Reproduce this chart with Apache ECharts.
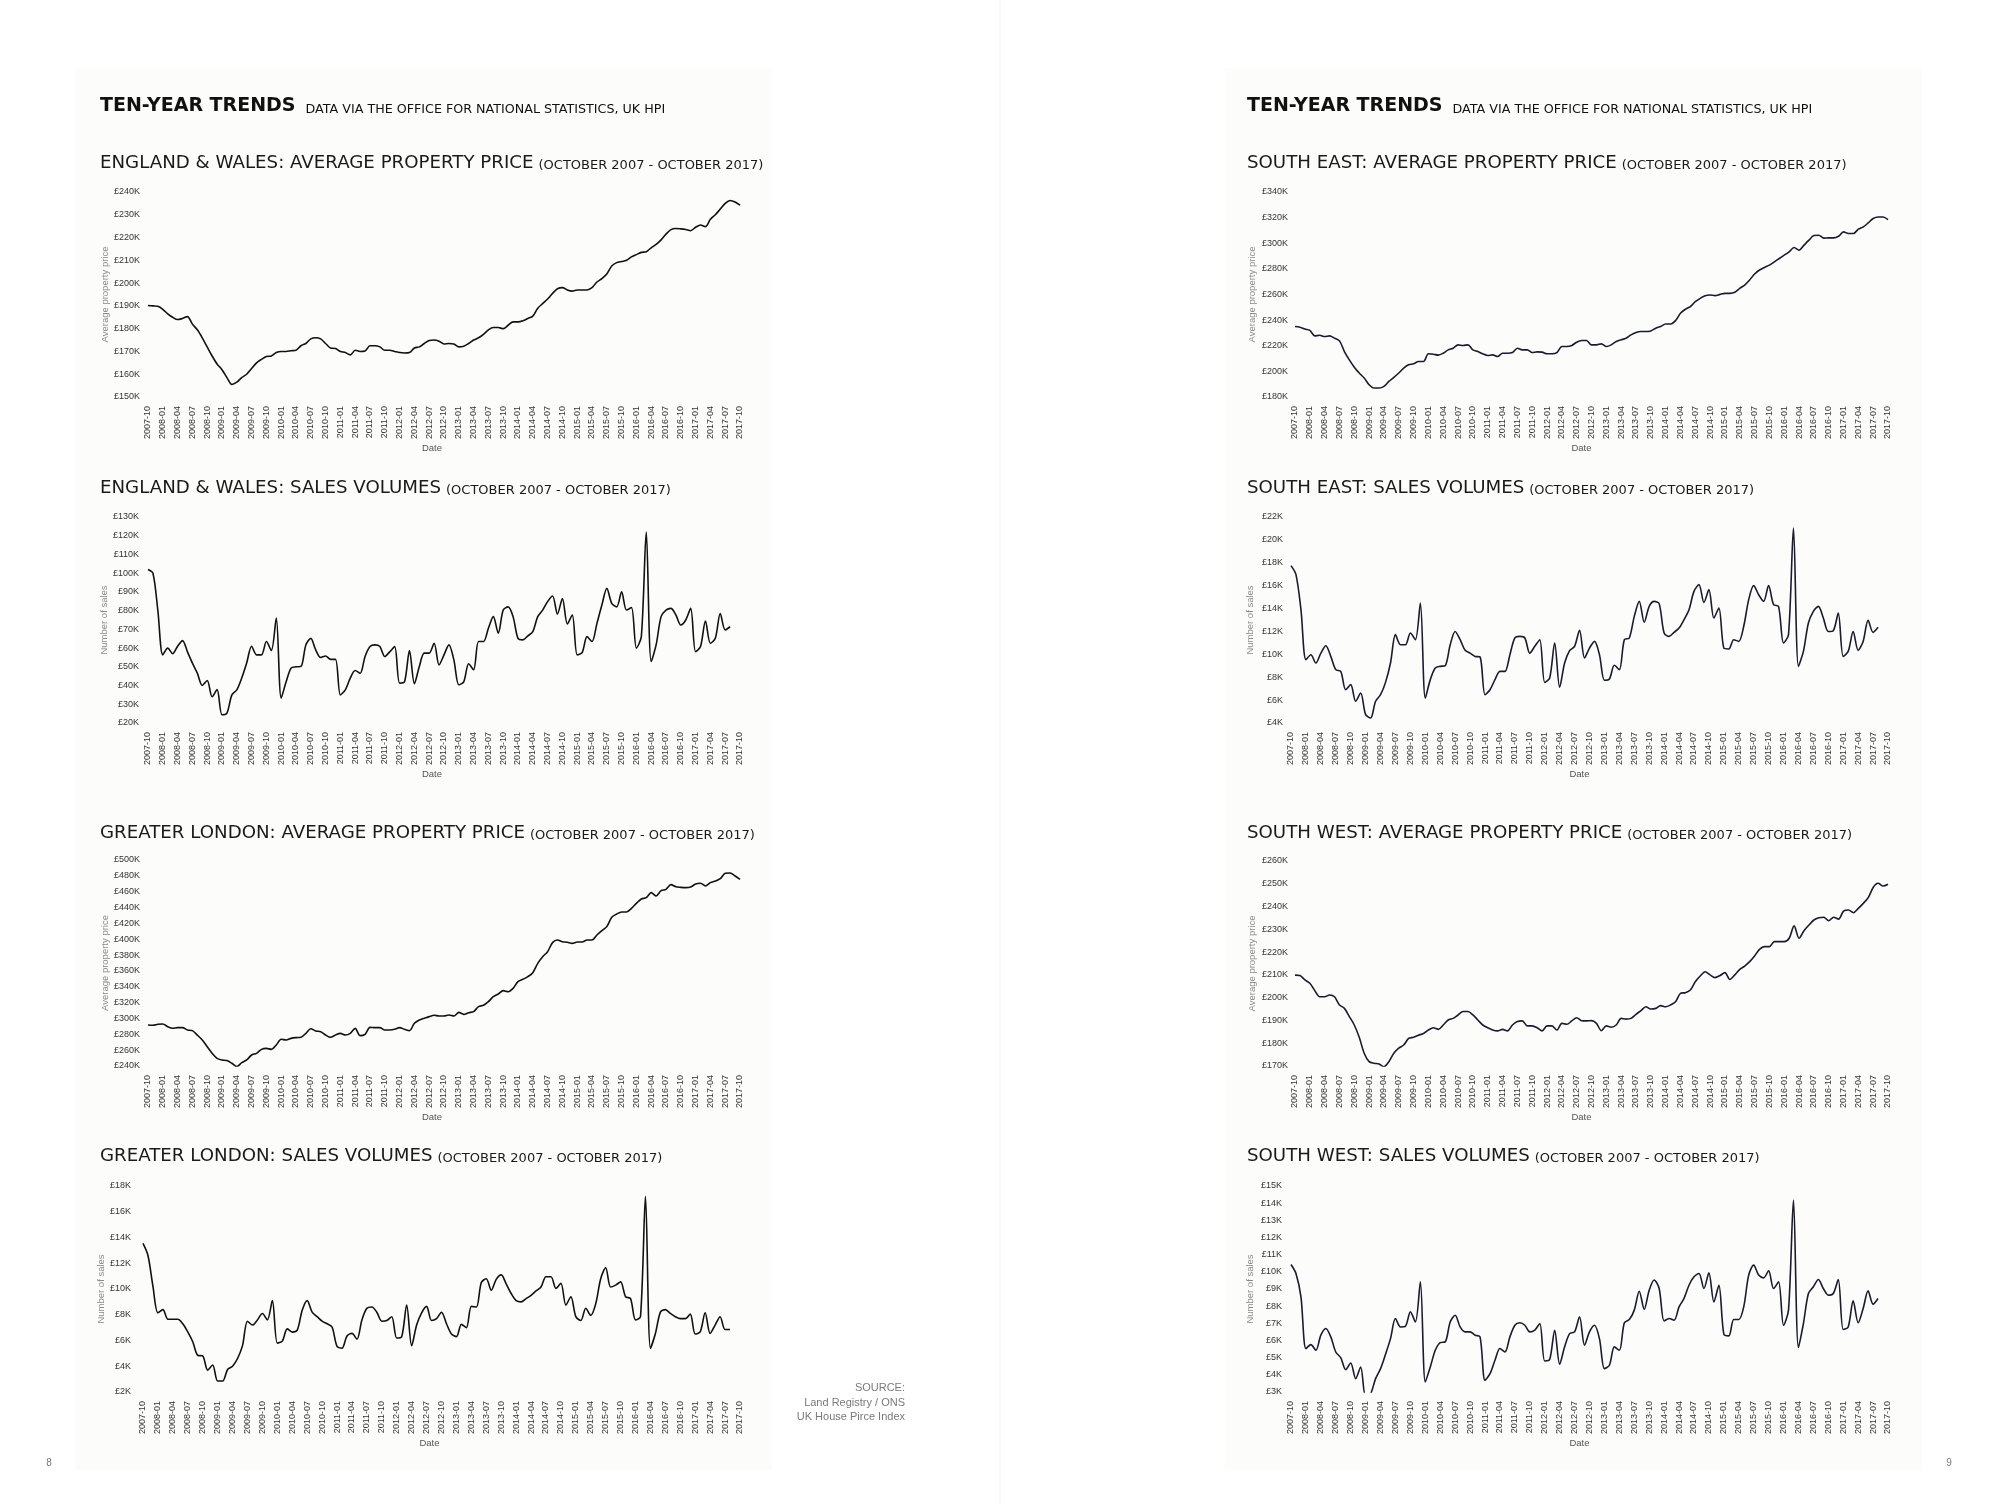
<!DOCTYPE html>
<html>
<head>
<meta charset="utf-8">
<script src="https://cdn.jsdelivr.net/npm/echarts@6/dist/echarts.min.js"></script>
<style>
html,body{margin:0;padding:0;background:#ffffff;}
#c{width:2000px;height:1504px;}
</style>
</head>
<body>
<div id="c"></div>
<script>
// ---------- categories ----------
const months = [
 '2007-10','2007-11','2007-12',
 '2008-01','2008-02','2008-03','2008-04','2008-05','2008-06','2008-07','2008-08','2008-09','2008-10','2008-11','2008-12',
 '2009-01','2009-02','2009-03','2009-04','2009-05','2009-06','2009-07','2009-08','2009-09','2009-10','2009-11','2009-12',
 '2010-01','2010-02','2010-03','2010-04','2010-05','2010-06','2010-07','2010-08','2010-09','2010-10','2010-11','2010-12',
 '2011-01','2011-02','2011-03','2011-04','2011-05','2011-06','2011-07','2011-08','2011-09','2011-10','2011-11','2011-12',
 '2012-01','2012-02','2012-03','2012-04','2012-05','2012-06','2012-07','2012-08','2012-09','2012-10','2012-11','2012-12',
 '2013-01','2013-02','2013-03','2013-04','2013-05','2013-06','2013-07','2013-08','2013-09','2013-10','2013-11','2013-12',
 '2014-01','2014-02','2014-03','2014-04','2014-05','2014-06','2014-07','2014-08','2014-09','2014-10','2014-11','2014-12',
 '2015-01','2015-02','2015-03','2015-04','2015-05','2015-06','2015-07','2015-08','2015-09','2015-10','2015-11','2015-12',
 '2016-01','2016-02','2016-03','2016-04','2016-05','2016-06','2016-07','2016-08','2016-09','2016-10','2016-11','2016-12',
 '2017-01','2017-02','2017-03','2017-04','2017-05','2017-06','2017-07','2017-08','2017-09','2017-10'
];

// ---------- series values (in £ thousands / thousands of sales) ----------
const englandWalesPrice = [
 190.2,190.0,189.8,
 188.5,186.5,185.0,184.0,184.5,185.3,182.0,179.5,176.0,172.0,168.0,164.5,
 162.0,158.5,155.5,156.5,158.5,160.0,162.5,165.0,166.5,167.8,168.0,169.5,
 170.0,170.0,170.3,170.5,172.5,173.5,175.5,176.0,175.5,173.5,171.5,171.3,
 170.0,169.5,168.5,170.5,170.0,170.2,172.5,172.5,172.0,170.5,170.5,170.0,
 169.5,169.3,169.5,171.5,172.0,173.5,174.8,175.0,174.5,173.3,173.5,173.3,
 172.0,172.3,173.5,175.0,176.0,177.5,179.5,180.5,180.5,180.0,181.5,183.0,
 183.0,183.5,184.5,185.5,189.0,191.0,193.0,195.5,197.5,198.0,197.0,196.5,
 197.0,197.0,197.0,198.0,200.5,202.0,204.0,207.5,209.0,209.5,210.0,211.5,
 212.5,213.5,213.8,215.5,217.0,219.0,221.5,223.5,224.0,223.8,223.5,223.0,
 224.5,225.5,224.8,228.0,230.0,232.5,235.0,236.3,235.6,234.2
];
const englandWalesSales = [
 102,100,80,
 56.4,60,57,61,64,58,52,46.6,40,42.7,34,37.8,
 24.4,25.3,35,37.7,44,52,61,56.4,56.4,63.5,58.7,76,
 33.3,42,49.3,50,50.2,61.7,65.2,59,55,55.8,54,54,
 35,37.7,44,48,46.6,55.5,60.8,61.7,60.8,55.5,58,60.8,
 41.3,42,58.7,41,50.2,57.3,57.3,62.6,51,56.4,61.7,53.7,
 40.4,42,51.6,48.4,63.5,63.5,70.6,76.8,68,80.3,82,76.8,
 65.2,64.4,66.5,68.8,76.8,80.3,84.8,87.8,78.2,86.5,72.9,77.7,
 56.4,57.6,66.1,63.5,73.2,83,91.9,83.9,82,90,80.3,81.7,
 60,66.1,122,52.8,61.7,76.8,80.3,81.2,77.7,72.3,75,81.2,
 58.1,60.8,74.5,62.6,65.2,78.5,69.7,71.4
];
const londonPrice = [
 291.8,291.5,292.6,
 293,289.6,287.6,288.4,288.4,285.5,284.6,279,272.8,264.4,256,249.7,
 247.6,246.8,243.4,239.2,244.2,247.6,253.9,256,261,262.3,261,266.5,
 273.7,272.8,274.9,275.8,276.2,281.2,287.1,284.2,283.3,279.1,276.2,279.1,
 281.2,279.1,281.2,287.5,278.3,280,288.8,288.4,288.4,285.5,285.5,286.3,
 288.4,286.3,284.6,293.9,298.1,300.2,302.3,304,303.1,303.1,304.4,303.1,
 307.7,305.2,307.3,308.6,314.9,316.6,321.2,327.5,330.9,335.1,333.8,338,
 346.4,349.4,352.8,357.8,369.6,378,384.3,395.7,399,396.9,396.1,394.8,
 396.5,396.5,399,399,405.3,410.8,415.9,427.6,431.8,434.4,434.4,439,
 445.3,450.8,452.5,458.8,454.6,461.3,463,468.9,466.3,465.5,465.1,465.9,
 469.7,470.6,467.2,471.4,473.5,476.4,483.2,483.6,479.8,475.6
];
const londonSales = [
 13.54,12.6,10.2,
 8.15,8.4,7.65,7.65,7.65,7.3,6.67,5.9,4.85,4.8,3.7,4.1,
 2.85,2.85,3.75,4.0,4.6,5.6,7.5,7.2,7.6,8.1,7.6,9.1,
 5.8,5.95,6.9,6.65,6.8,8.35,9.1,8.2,7.85,7.5,7.3,7.05,
 5.55,5.4,6.35,6.55,6.1,7.6,8.5,8.6,8.2,7.5,7.55,7.85,
 6.2,6.3,8.75,5.6,7.2,8.15,8.65,7.55,7.7,8.2,7.3,6.5,
 6.3,7.25,7.0,8.65,8.6,10.5,10.8,9.9,10.75,11.1,10.4,9.65,
 9.1,9.0,9.25,9.5,9.85,10.15,10.95,10.95,10.05,10.45,8.75,9.4,
 7.85,7.55,8.5,7.95,8.85,10.8,11.65,10.15,10.3,10.55,9.4,9.25,
 7.6,7.85,17.2,5.4,6.55,8.2,8.4,8.1,7.85,7.7,7.7,8.05,
 6.5,6.67,8.15,6.55,7.2,7.85,6.85,6.85
];
const southEastPrice = [
 235,234.5,233,
 232,227.7,228.2,227.2,227.7,225.9,223.8,215.5,209,203.3,198.7,194.8,
 189.6,187,187,188.3,192.2,195.3,198.7,202.6,205.1,205.9,207.7,207.7,
 213.7,213.4,212.7,214.2,216.8,218.1,220.7,220.2,220.7,216.8,215.5,213.7,
 212.4,212.9,211.6,214.2,214.2,214.7,218.1,216.8,216.8,214.7,215.2,215,
 213.7,213.7,214.7,219.4,219.4,220.2,222.8,224.1,224.1,220.7,220.7,221.5,
 219.4,220.7,223.3,224.6,225.9,228.5,230.3,231.1,231.1,231.6,233.7,235,
 237,237,239.6,245.3,248.5,250.5,254.4,257,259.1,259.6,259.1,260.1,
 260.9,260.9,261.7,264.8,267.4,271.3,276,279.1,281.1,282.9,285.5,288.1,
 290.7,293.3,296.7,294.6,298.5,302.4,306,306.3,304,304.2,304.2,305.5,
 308.9,307.6,307.6,311,312.8,315.9,319.3,320.5,320.5,318.5
];
const southEastSales = [
 17.75,16.96,13.9,
 9.53,9.97,9.24,10.1,10.75,9.82,8.66,8.51,6.91,7.35,5.9,6.62,
 4.73,4.44,5.9,6.47,7.55,9.24,11.72,10.84,10.84,11.86,11.28,14.48,
 6.18,7.79,8.8,8.95,9.01,10.84,12.0,11.28,10.35,10.1,9.82,9.77,
 6.47,6.91,7.79,8.51,8.51,9.97,11.43,11.57,11.43,10.1,10.7,11.28,
 7.55,7.93,10.99,7.12,9.24,10.32,10.7,12.1,9.68,10.55,11.13,9.97,
 7.73,7.85,9.04,8.66,11.28,11.43,13.32,14.63,12.8,14.19,14.63,14.43,
 11.86,11.57,11.92,12.3,13.03,13.9,15.5,16.09,14.54,15.65,13.17,14.05,
 10.55,10.47,11.28,11.13,12.45,14.78,16.0,15.21,14.63,16.0,14.34,14.19,
 10.99,11.72,21.04,8.95,10.26,12.74,13.76,14.19,13.17,12.0,12.07,13.61,
 9.82,10.26,12.0,10.35,11.13,12.97,11.92,12.36
];
const southWestPrice = [
 209.9,209.7,207.8,
 206.3,203.1,200.4,200.4,201.2,200.4,196.8,195.3,191.7,188,182.6,175.6,
 171.9,171.2,170.9,169.7,171.9,175.6,177.8,179.2,182.1,182.6,183.5,184.3,
 185.8,186.8,186.1,188,190.2,190.9,192.4,193.9,193.9,192.4,190.2,188,
 186.8,185.8,185.4,186.1,185.4,188,189.5,189.8,187.6,187.6,186.8,185.4,
 187.6,187.6,185.8,188.7,188.3,189.8,191.2,189.9,189.8,189.9,188.7,185.5,
 187.6,187,188,190.9,190.6,190.9,192.7,194.3,196,195,195.3,196.5,
 196,196.8,198.2,201.9,202.2,203.4,207,209.5,211.4,210,208.8,209.7,
 211,208,210,212.4,213.9,215.8,218.3,221.2,222.4,222.4,224.6,224.6,
 224.6,226.1,231.5,226.1,229.4,231.9,234.1,235.1,235.3,233.8,235.3,234.5,
 238,238.5,237.3,239.2,241.4,243.9,248.4,250.2,249,249.8
];
const southWestSales = [
 10.43,9.9,8.54,
 5.53,5.76,5.43,6.31,6.7,6.21,5.33,5.0,4.3,4.69,3.78,4.46,
 2.75,2.9,3.78,4.36,5.2,6.11,7.28,6.79,6.83,7.67,7.08,9.42,
 3.58,4.46,5.43,5.88,5.92,7.08,7.47,6.79,6.5,6.5,6.31,6.21,
 3.68,4.07,4.85,5.53,5.33,6.21,6.89,7.03,6.89,6.5,6.6,6.99,
 4.81,4.89,6.6,4.62,5.63,6.4,6.5,7.38,5.72,6.5,6.89,6.11,
 4.36,4.56,5.63,5.43,7.03,7.22,7.77,8.87,7.82,8.93,9.52,9.03,
 7.14,7.28,7.18,7.96,8.45,9.22,9.71,9.9,9.03,9.94,8.25,9.22,
 6.37,6.27,7.22,7.22,7.96,9.81,10.39,9.81,9.65,10.06,9.03,9.42,
 6.89,7.77,14.18,5.59,6.99,8.74,9.13,9.55,9.03,8.64,8.74,9.55,
 6.64,6.79,8.31,7.03,7.86,8.89,8.12,8.45
];

// ---------- y-axis scales [min, max, interval] ----------
const axisEWPrice = [150, 240, 10];
const axisEWSales = [20, 130, 10];
const axisLonPrice = [240, 500, 20];
const axisLonSales = [2, 18, 2];
const axisSEPrice = [180, 340, 20];
const axisSESales = [4, 22, 2];
const axisSWPrice = [170, 260, 10];
const axisSWSales = [3, 15, 1];

// ---------- texts ----------
const headerMain = 'TEN-YEAR TRENDS';
const headerSub = 'DATA VIA THE OFFICE FOR NATIONAL STATISTICS, UK HPI';
const periodText = '(OCTOBER 2007 - OCTOBER 2017)';
const chartTitles = [
 'ENGLAND & WALES: AVERAGE PROPERTY PRICE',
 'ENGLAND & WALES: SALES VOLUMES',
 'GREATER LONDON: AVERAGE PROPERTY PRICE',
 'GREATER LONDON: SALES VOLUMES',
 'SOUTH EAST: AVERAGE PROPERTY PRICE',
 'SOUTH EAST: SALES VOLUMES',
 'SOUTH WEST: AVERAGE PROPERTY PRICE',
 'SOUTH WEST: SALES VOLUMES'
];
const priceAxisName = 'Average property price';
const salesAxisName = 'Number of sales';
const xAxisName = 'Date';
const sourceText = 'SOURCE:\nLand Registry / ONS\nUK House Pirce Index';

// ---------- build ----------
const charts = [
 {data: englandWalesPrice, axis: axisEWPrice, yName: priceAxisName},
 {data: englandWalesSales, axis: axisEWSales, yName: salesAxisName},
 {data: londonPrice, axis: axisLonPrice, yName: priceAxisName},
 {data: londonSales, axis: axisLonSales, yName: salesAxisName},
 {data: southEastPrice, axis: axisSEPrice, yName: priceAxisName},
 {data: southEastSales, axis: axisSESales, yName: salesAxisName},
 {data: southWestPrice, axis: axisSWPrice, yName: priceAxisName},
 {data: southWestSales, axis: axisSWSales, yName: salesAxisName}
];
const layout = [
 {left:148, top:192, width:592, height:205, lm:8,  ng:38, tl:100,  tt:152, dp:24, color:'#111111'},
 {left:148, top:517, width:592, height:206, lm:9,  ng:38, tl:100,  tt:477, dp:24, color:'#111111'},
 {left:148, top:860, width:592, height:206, lm:8,  ng:38, tl:100,  tt:822, dp:24, color:'#111111'},
 {left:143, top:1186,width:597, height:206, lm:12, ng:36, tl:100,  tt:1145,dp:24, color:'#111111'},
 {left:1295,top:192, width:593, height:205, lm:7,  ng:38, tl:1247, tt:152, dp:20, color:'#1a1a30'},
 {left:1291,top:517, width:597, height:206, lm:8,  ng:36, tl:1247, tt:477, dp:20, color:'#1a1a30'},
 {left:1295,top:861, width:593, height:205, lm:7,  ng:38, tl:1247, tt:822, dp:20, color:'#1a1a30'},
 {left:1291,top:1186,width:597, height:206, lm:9,  ng:36, tl:1247, tt:1145,dp:20, color:'#1a1a30'}
];

const labelFont = 'Liberation Sans';
const titleFont = 'DejaVu Sans';
const grids = [], xAxes = [], yAxes = [], series = [];
const titles = [];

[100, 1247].forEach(x => {
  titles.push({left:x, top:93, padding:0,
    text:'{h|' + headerMain + '}  {d|' + headerSub + '}',
    textStyle:{fontWeight:'normal', rich:{
      h:{fontFamily:titleFont, fontWeight:'bold', fontSize:19, color:'#111', lineHeight:23, verticalAlign:'bottom'},
      d:{fontFamily:titleFont, fontWeight:'normal', fontSize:12.7, color:'#111', lineHeight:17, verticalAlign:'bottom'}
    }}});
});

charts.forEach((c, i) => {
  const L = layout[i];
  grids.push({left:L.left, top:L.top, width:L.width, height:L.height, containLabel:false, outerBoundsMode:'none'});
  xAxes.push({
    type:'category', gridIndex:i, data:months, boundaryGap:false,
    axisLine:{show:false}, axisTick:{show:false}, splitLine:{show:false},
    axisLabel:{interval:2, rotate:90, margin:9, fontFamily:labelFont, fontSize:9, color:'#333'},
    name:xAxisName, nameLocation:'middle', nameGap:46,
    nameTextStyle:{fontFamily:labelFont, fontSize:9.5, color:'#555', padding:[0,L.dp,0,0]}
  });
  yAxes.push({
    type:'value', gridIndex:i, min:c.axis[0], max:c.axis[1], interval:c.axis[2],
    axisLine:{show:false}, axisTick:{show:false}, splitLine:{show:false},
    axisLabel:{margin:L.lm, fontFamily:labelFont, fontSize:9, color:'#333', formatter:'£{value}K'},
    name:c.yName, nameLocation:'middle', nameGap:L.ng,
    nameTextStyle:{fontFamily:labelFont, fontSize:9.5, color:'#8a8a8a'}
  });
  series.push({
    type:'line', xAxisIndex:i, yAxisIndex:i, data:c.data,
    showSymbol:false, symbol:'none', smooth:0.3,
    lineStyle:{color:L.color, width:1.6}, silent:true
  });
  titles.push({left:L.tl, top:L.tt, padding:0,
    text:'{m|' + chartTitles[i] + '} {s|' + periodText + '}',
    textStyle:{fontWeight:'normal', rich:{
      m:{fontFamily:titleFont, fontWeight:'normal', fontSize:18.2, color:'#1a1a1a', lineHeight:20, verticalAlign:'bottom'},
      s:{fontFamily:titleFont, fontWeight:'normal', fontSize:13, color:'#1a1a1a', lineHeight:15, verticalAlign:'bottom'}
    }}});
});

const chart = echarts.init(document.getElementById('c'), null, {renderer:'canvas', width:2000, height:1504});
chart.setOption({
  animation:false,
  backgroundColor:'#ffffff',
  title:titles,
  grid:grids,
  xAxis:xAxes,
  yAxis:yAxes,
  series:series,
  graphic:[
    {type:'rect', silent:true, z:-10, shape:{x:75, y:68, width:697, height:1402}, style:{fill:'#fcfcfa'}},
    {type:'rect', silent:true, z:-10, shape:{x:1225, y:68, width:697, height:1402}, style:{fill:'#fcfcfa'}},
    {type:'line', silent:true, z:-9, shape:{x1:1000, y1:0, x2:1000, y2:1504}, style:{stroke:'#f1f1f1', lineWidth:1}},
    {type:'text', silent:true, x:905, y:1381, style:{text:sourceText, align:'right', verticalAlign:'top',
      fontFamily:labelFont, fontSize:11, lineHeight:14.5, fill:'#7a7a7a'}},
    {type:'text', silent:true, x:49, y:1463, style:{text:'8', align:'center', verticalAlign:'middle',
      fontFamily:labelFont, fontSize:10, fill:'#777'}},
    {type:'text', silent:true, x:1949, y:1463, style:{text:'9', align:'center', verticalAlign:'middle',
      fontFamily:labelFont, fontSize:10, fill:'#777'}}
  ]
});
</script>
</body>
</html>
